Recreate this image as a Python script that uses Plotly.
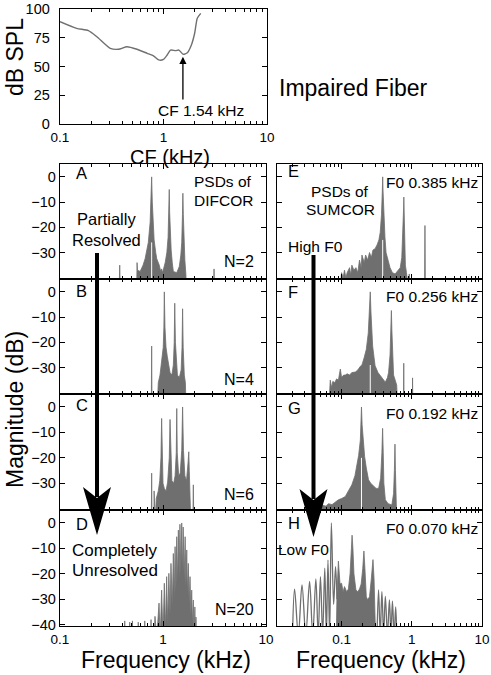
import math
import plotly.graph_objects as go

W, H = 491, 675
FONT = "Liberation Sans, Arial, Helvetica, sans-serif"
GRAY = "#6f6f6f"
FLOOR = -45

# ---------------- data ----------------
tune_f = [0.10, 0.145, 0.188, 0.227, 0.306, 0.368, 0.444, 0.555, 0.695, 0.805, 0.90,
          1.0, 1.085, 1.17, 1.31, 1.41, 1.55, 1.70, 1.86, 2.0, 2.12, 2.29]
tune_db = [89, 83.2, 81.2, 75.9, 65.8, 65, 67.2, 65, 61.5, 59.1, 55.7,
           56.2, 60, 64.3, 63.8, 64.3, 60.6, 62, 68.7, 78.9, 91.9, 96.2]
CF_KHZ = 1.54

# Panel A (N=2), outline of PSD (kHz, dB)
A_pts = [(0.375, -45), (0.380, -35), (0.385, -45), (0.555, -45), (0.56, -34), (0.565, -37),
         (0.60, -37.5), (0.64, -35), (0.67, -32.5), (0.70, -29), (0.72, -26), (0.75, -18),
         (0.765, -10), (0.776, 0), (0.787, -10), (0.80, -20), (0.82, -25), (0.85, -30),
         (0.87, -32.5), (0.92, -35), (0.95, -37.5), (0.97, -36.5), (0.99, -38), (1.05, -34),
         (1.09, -30), (1.12, -24), (1.14, -14), (1.15, -5), (1.16, -14), (1.18, -24),
         (1.20, -29), (1.23, -34), (1.26, -37.5), (1.36, -38), (1.44, -35.5), (1.49, -31),
         (1.52, -26), (1.545, -15), (1.56, -6.5), (1.575, -15), (1.60, -27), (1.63, -33),
         (1.67, -39), (1.68, -45), (3.10, -45), (3.13, -36.5), (3.16, -45)]
# Panel B (N=4)
B_pts = [(0.77, -45), (0.776, -21.5), (0.782, -45), (0.88, -45), (0.90, -36), (0.935, -33),
         (0.965, -29), (0.985, -26.5), (1.005, -22), (1.02, -14), (1.03, 0), (1.045, -14),
         (1.07, -22), (1.10, -25.5), (1.14, -29), (1.17, -32), (1.22, -33), (1.26, -29),
         (1.285, -20), (1.30, -4.5), (1.32, -20), (1.35, -30), (1.38, -33), (1.44, -34),
         (1.50, -31), (1.53, -22), (1.55, -6.7), (1.57, -22), (1.61, -33), (1.65, -36),
         (1.67, -45)]
# Panel C (N=6)
C_pts = [(0.77, -45), (0.776, -26), (0.782, -45), (0.815, -45), (0.82, -33), (0.825, -45),
         (0.84, -45), (0.86, -36), (0.90, -33), (0.93, -29), (0.955, -20), (0.97, -4.5),
         (0.985, -20), (1.0, -30), (1.03, -32), (1.07, -33), (1.11, -29.5), (1.15, -20),
         (1.17, -4.9), (1.19, -20), (1.22, -29), (1.27, -30), (1.31, -27), (1.345, -18),
         (1.36, -0.6), (1.375, -18), (1.42, -27), (1.47, -26), (1.52, -17), (1.55, 0),
         (1.58, -17), (1.63, -27), (1.69, -29), (1.75, -22), (1.78, -17.6), (1.80, -25),
         (1.82, -35), (1.85, -40), (1.86, -45), (1.95, -45), (1.97, -30.6), (1.99, -45)]
# Panel D (N=20): comb of lines (peaks and troughs)
D_pts = [(0.42, -45), (0.425, -38.5), (0.43, -45), (0.47, -45), (0.475, -39), (0.48, -45),
         (0.50, -45), (0.505, -38.5), (0.51, -45), (0.57, -45), (0.575, -39), (0.58, -45),
         (0.66, -45), (0.665, -38.5), (0.67, -45), (0.76, -45), (0.765, -38), (0.77, -45),
         (0.82, -45), (0.836, -36.7), (0.87, -45), (0.915, -31.5), (0.94, -45), (0.97, -26.4),
         (1.0, -45), (1.03, -23.7), (1.06, -42), (1.085, -21.1), (1.11, -40), (1.14, -19.8),
         (1.17, -36), (1.195, -15.9), (1.23, -33), (1.26, -12), (1.285, -30), (1.31, -9.3),
         (1.335, -27), (1.36, -5.4), (1.385, -24), (1.41, -2.8), (1.435, -22), (1.46, -0.5),
         (1.49, -20), (1.52, 0), (1.545, -20), (1.57, -1.6), (1.605, -22), (1.64, -5.4),
         (1.67, -25), (1.70, -10.6), (1.73, -28), (1.76, -15.9), (1.795, -32), (1.83, -21.1),
         (1.865, -36), (1.90, -26.4), (1.935, -40), (1.97, -30.3), (2.0, -45), (2.04, -33),
         (2.065, -45), (2.09, -37), (2.11, -45)]
# Panel E (F0 0.385 kHz)
E_pts = [(0.095, -45), (0.10, -38), (0.105, -40), (0.11, -37), (0.115, -40), (0.12, -38),
         (0.13, -36), (0.135, -39), (0.14, -35), (0.15, -37), (0.16, -36), (0.17, -38),
         (0.18, -33), (0.19, -36), (0.195, -31), (0.21, -34), (0.22, -31), (0.235, -33),
         (0.25, -30), (0.265, -32), (0.28, -29), (0.30, -28.5), (0.32, -27), (0.34, -25),
         (0.355, -22), (0.37, -15), (0.38, -6), (0.385, 0), (0.39, -6), (0.40, -16),
         (0.415, -24), (0.43, -30), (0.46, -33), (0.49, -36), (0.53, -38), (0.58, -38.5),
         (0.64, -37), (0.685, -36), (0.72, -32), (0.75, -22), (0.765, -12), (0.77, -8),
         (0.775, -12), (0.79, -25), (0.81, -35), (0.84, -38), (0.86, -45), (0.90, -45),
         (0.92, -38.5), (0.95, -45), (1.52, -45), (1.54, -19.3), (1.56, -45)]
# Panel F (F0 0.256 kHz)
F_pts = [(0.066, -45), (0.069, -35), (0.072, -38), (0.075, -35.5), (0.08, -36), (0.085, -34.5),
         (0.09, -35), (0.096, -30.6), (0.10, -34), (0.107, -33), (0.113, -33), (0.12, -32.5),
         (0.13, -33), (0.14, -32), (0.157, -31.8), (0.17, -31), (0.185, -29.5), (0.195, -29),
         (0.21, -26), (0.225, -22.8), (0.24, -16.3), (0.25, -8), (0.256, 0), (0.262, -8),
         (0.27, -16), (0.277, -21.5), (0.29, -26), (0.30, -29.3), (0.33, -32), (0.356, -33.2),
         (0.39, -35), (0.42, -35.8), (0.45, -34), (0.467, -31.9), (0.49, -25), (0.505, -15),
         (0.512, -7.4), (0.52, -15), (0.535, -28), (0.55, -33), (0.58, -35), (0.61, -37),
         (0.625, -45), (0.76, -45), (0.768, -28.3), (0.776, -45), (1.02, -45), (1.025, -34.1),
         (1.035, -45)]
# Panel G (F0 0.192 kHz)
G_pts = [(0.05, -45), (0.052, -38.5), (0.06, -39), (0.065, -38), (0.073, -38.4), (0.08, -37.5),
         (0.09, -36.5), (0.10, -36), (0.113, -35.2), (0.125, -33), (0.14, -30.6), (0.155, -27),
         (0.165, -23.4), (0.175, -19), (0.185, -13), (0.19, -7), (0.192, 0), (0.196, -7),
         (0.205, -15), (0.213, -19.5), (0.225, -24), (0.242, -28.6), (0.26, -30), (0.286, -31.3),
         (0.31, -32), (0.337, -32), (0.36, -28), (0.375, -18), (0.384, -8.4), (0.392, -18),
         (0.40, -30), (0.42, -36.5), (0.46, -38), (0.52, -38.5), (0.55, -34), (0.565, -25),
         (0.576, -14.6), (0.585, -25), (0.60, -37), (0.61, -45)]
# Panel H (F0 0.070 kHz): low-frequency lobes, dense middle part, tail lines
H_low_pts = [(0.0200, -44), (0.0214, -26), (0.0242, -44), (0.0273, -24.3), (0.0309, -44),
             (0.035, -23), (0.0388, -44), (0.043, -22), (0.0464, -44), (0.050, -21.1),
             (0.0537, -44), (0.0576, -17.8), (0.0607, -44), (0.064, -14.6), (0.0675, -44),
             (0.0715, 0), (0.077, -32), (0.082, -17.2), (0.086, -30)]
H_mid_pts = [(0.084, -45), (0.086, -28), (0.09, -15), (0.095, -24), (0.10, -23.7), (0.105, -27),
             (0.11, -25), (0.118, -27), (0.125, -26), (0.132, -20), (0.138, -10), (0.141, -4.8),
             (0.145, -10), (0.15, -20), (0.16, -26.3), (0.17, -27), (0.18, -26), (0.19, -24),
             (0.20, -18), (0.208, -11), (0.215, -18), (0.225, -29), (0.235, -30.2), (0.25, -29),
             (0.265, -22), (0.28, -14.4), (0.29, -22), (0.30, -32.8), (0.305, -45)]
H_tail_pts = [(0.32, -44), (0.336, -26.3), (0.355, -44), (0.375, -27), (0.397, -44), (0.42, -28.9),
              (0.45, -44), (0.48, -30.2), (0.505, -44), (0.53, -30.7), (0.56, -44), (0.59, -33),
              (0.61, -44)]
# white gaps at the centre of some peaks: (kHz, dB top of the gap)
A_gap = [(0.776, -26)]
E_gap = [(0.385, -25)]
F_gap = [(0.256, -29)]
G_gap = [(0.192, -20)]

left_labels = ["A", "B", "C", "D"]
right_labels = ["E", "F", "G", "H"]
n_labels = ["N=2", "N=4", "N=6", "N=20"]
f0_labels = ["F0 0.385 kHz", "F0 0.256 kHz", "F0 0.192 kHz", "F0 0.070 kHz"]

# ---------------- layout helpers ----------------
def px2x(x):
    return x / W

def px2y(y):
    return 1 - y / H

rows = [(164, 279), (279, 394), (394, 510), (510, 626)]
LEFT_X = (60, 266)
RIGHT_X = (277, 482)
YR = [-40.5, 5.1]

fig = go.Figure()

def split(pts):
    return [p[0] for p in pts], [p[1] for p in pts]

def add_fill(pts, n):
    xs, ys = split(pts)
    xs = xs + [xs[-1], xs[0]]
    ys = ys + [FLOOR, FLOOR]
    fig.add_trace(go.Scatter(x=xs, y=ys, mode="lines", fill="toself", fillcolor=GRAY,
                             line=dict(color=GRAY, width=0.8), xaxis=f"x{n}", yaxis=f"y{n}",
                             hoverinfo="skip"))

def add_gap(gaps, n):
    for f, top in gaps:
        fig.add_trace(go.Scatter(x=[f, f], y=[YR[0], top], mode="lines",
                                 line=dict(color="white", width=1), xaxis=f"x{n}", yaxis=f"y{n}",
                                 hoverinfo="skip"))

def add_line(pts, n, shape="spline"):
    xs, ys = split(pts)
    fig.add_trace(go.Scatter(x=xs, y=ys, mode="lines", line=dict(color=GRAY, width=1.3, shape=shape),
                             xaxis=f"x{n}", yaxis=f"y{n}", hoverinfo="skip"))

# top tuning curve
fig.add_trace(go.Scatter(x=tune_f, y=tune_db, mode="lines", line=dict(color="#707070", width=1.4,
                         shape="spline", smoothing=0.6), xaxis="x", yaxis="y", hoverinfo="skip"))

for n, pts in zip([2, 3, 4, 5], [A_pts, B_pts, C_pts, D_pts]):
    add_fill(pts, n)
add_gap(A_gap, 2)
for n, pts in zip([6, 7, 8], [E_pts, F_pts, G_pts]):
    add_fill(pts, n)
add_gap(E_gap, 6)
add_gap(F_gap, 7)
add_gap(G_gap, 8)
add_fill(H_mid_pts, 9)
add_line(H_low_pts, 9)
add_line(H_tail_pts, 9)

tickfont = dict(family=FONT, size=14.5, color="black")
xtickfont = dict(family=FONT, size=13.5, color="black")

def xax(domain_px, rng, labels, anchor, standoff=0):
    return dict(type="log", domain=[px2x(domain_px[0]), px2x(domain_px[1])], range=rng,
                anchor=anchor, showline=True, linecolor="black", linewidth=1.3, mirror="ticks",
                ticks="inside", ticklen=5, tickwidth=1, tickcolor="black", dtick=1,
                showticklabels=labels, showgrid=False, zeroline=False, tickfont=xtickfont,
                ticklabelstandoff=standoff,
                minor=dict(ticks="inside", ticklen=3, tickwidth=1, tickcolor="black", dtick="D1",
                           showgrid=False),
                automargin=False, fixedrange=True)

def yax(domain_px, rng, vals, labels, anchor, standoff=0):
    return dict(domain=[px2y(domain_px[1]), px2y(domain_px[0])], range=rng, anchor=anchor,
                showline=True, linecolor="black", linewidth=1.3, mirror="ticks", ticks="inside",
                ticklen=5, tickwidth=1, tickcolor="black", tickvals=vals, showticklabels=labels,
                showgrid=False, zeroline=False, tickfont=tickfont, automargin=False,
                ticklabelstandoff=standoff, fixedrange=True)

layout = dict(width=W, height=H, margin=dict(l=0, r=0, t=0, b=0, pad=0, autoexpand=False),
              paper_bgcolor="white", plot_bgcolor="white", showlegend=False,
              font=dict(family=FONT, color="black"))
layout["xaxis"] = xax((60, 267), [-1, 1], True, "y", standoff=0)
layout["yaxis"] = yax((9, 124), [0, 100], [0, 25, 50, 75, 100], True, "x", standoff=6)
for i in range(4):
    nl = 2 + i
    nr = 6 + i
    last = i == 3
    layout[f"xaxis{nl}"] = xax(LEFT_X, [-1, 1], last, f"y{nl}")
    layout[f"yaxis{nl}"] = yax(rows[i], YR, [-40, -30, -20, -10, 0] if last else [-30, -20, -10, 0],
                               True, f"x{nl}")
    layout[f"xaxis{nr}"] = xax(RIGHT_X, [-1.92, 1.0], last, f"y{nr}")
    layout[f"yaxis{nr}"] = yax(rows[i], YR, [-30, -20, -10, 0], False, f"x{nr}")

ann = []

def text(t, x, y, size, xanchor="center", angle=0):
    ann.append(dict(text=t, x=px2x(x), y=px2y(y), xref="paper", yref="paper", showarrow=False,
                    xanchor=xanchor, yanchor="middle", textangle=angle,
                    font=dict(family=FONT, size=size, color="black")))

# axis titles
text("dB SPL", 15, 57, 23, angle=-90)
text("CF (kHz)", 170, 157, 20)
text("Impaired Fiber", 277, 88, 23, xanchor="left")
text("Magnitude (dB)", 15, 410, 23, angle=-90)
text("Frequency (kHz)", 166, 660, 23)
text("Frequency (kHz)", 381, 660, 23)
text("CF 1.54 kHz", 201, 111, 15.5)

# panel letters
for lab, yc in zip(left_labels, [173, 291, 405, 524]):
    text(lab, 74, yc, 16.5, xanchor="left")
for lab, yc in zip(right_labels, [171, 292, 408, 523]):
    text(lab, 286, yc, 16.5, xanchor="left")
for lab, yc in zip(n_labels, [261, 379, 495, 609]):
    text(lab, 256, yc, 16, xanchor="right")
for lab, yc in zip(f0_labels, [182, 296, 414, 528]):
    text(lab, 480, yc, 15.5, xanchor="right")

text("PSDs of", 223, 181, 15.5)
text("DIFCOR", 223, 200, 15.5)
text("Partially", 106, 219, 16.5)
text("Resolved", 106, 240, 16.5)
text("Completely", 70, 550, 17, xanchor="left")
text("Unresolved", 70, 570, 17, xanchor="left")
text("PSDs of", 340, 191, 15.5)
text("SUMCOR", 340, 209, 15.5)
text("High F0", 315, 246, 15.5)
text("Low F0", 303, 549, 15.5)

# CF arrow in top panel
ann.append(dict(x=math.log10(CF_KHZ), y=58.5, ax=math.log10(CF_KHZ), ay=20, xref="x", yref="y",
                axref="x", ayref="y", text="", showarrow=True, arrowhead=2, arrowsize=1.1,
                arrowwidth=1.3, arrowcolor="black"))
layout["annotations"] = ann

shapes = []
def big_arrow(xc, ytop, ytip, ywing, half=14):
    shapes.append(dict(type="line", xref="paper", yref="paper", x0=px2x(xc), x1=px2x(xc),
                       y0=px2y(ytop), y1=px2y(ywing + 10), line=dict(color="black", width=4)))
    path = (f"M {px2x(xc)},{px2y(ytip)} L {px2x(xc - half)},{px2y(ywing)} "
            f"L {px2x(xc)},{px2y(ywing + 11)} L {px2x(xc + half)},{px2y(ywing)} Z")
    shapes.append(dict(type="path", xref="paper", yref="paper", path=path, fillcolor="black",
                       line=dict(width=0)))

big_arrow(97, 253, 535, 487)
big_arrow(313.5, 255, 537, 489)
layout["shapes"] = shapes

fig.update_layout(**layout)
fig.write_html("out.html", config={"displayModeBar": False, "staticPlot": True},
               post_script="document.body.style.margin='0';document.body.style.overflow='hidden';")
